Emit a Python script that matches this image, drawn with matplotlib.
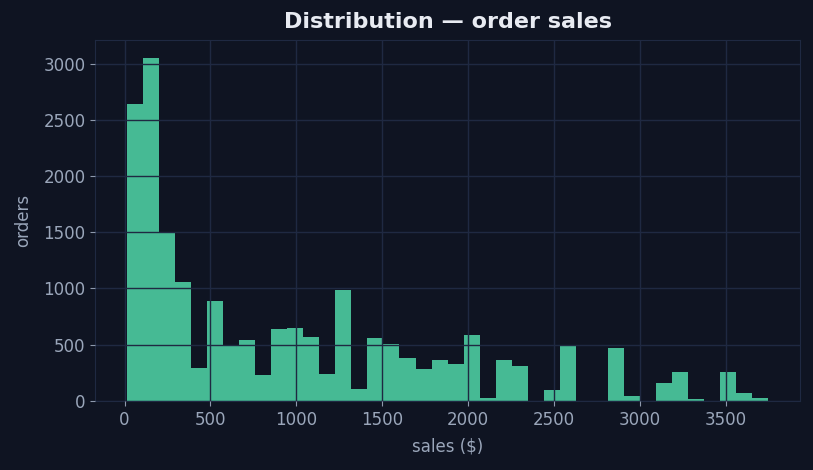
import numpy as np
import matplotlib
matplotlib.use('Agg')
import matplotlib.pyplot as plt

# histogram counts (40 equal-width bins)
counts = [2644, 3054, 1499, 1060, 294, 890, 496, 543, 231, 641,
          650, 570, 240, 988, 107, 561, 508, 383, 285, 365,
          330, 588, 27, 365, 312, 0, 98, 490, 0, 0,
          472, 44, 0, 160, 258, 13, 0, 258, 71, 27]
sales_min = 15
sales_max = 3745
n_bins = len(counts)

bg = '#0f1422'
grid_col = '#1f2942'
text_col = '#9aa6ba'
bar_col = '#46ba94'

edges = np.linspace(sales_min, sales_max, n_bins + 1)
centers = (edges[:-1] + edges[1:]) / 2

fig, ax = plt.subplots(figsize=(8.13, 4.70), dpi=100)
fig.patch.set_facecolor(bg)
ax.set_facecolor(bg)

ax.hist(centers, bins=edges, weights=counts, color=bar_col, edgecolor='none')

ax.set_axisbelow(False)
ax.grid(True, color=grid_col, linewidth=1.0)
for s in ax.spines.values():
    s.set_color(grid_col)

ax.tick_params(colors='#8e99ad', labelcolor=text_col, labelsize=12, length=3.5)
ax.set_xticks([0, 500, 1000, 1500, 2000, 2500, 3000, 3500])
ax.set_title('Distribution — order sales', color='#e8ebf2', fontsize=16,
             fontweight='bold', pad=9)
ax.set_xlabel('sales ($)', color=text_col, fontsize=12, labelpad=6.5)
ax.set_ylabel('orders', color=text_col, fontsize=12, labelpad=8)

plt.subplots_adjust(left=0.117, right=0.984, top=0.914, bottom=0.147)
plt.savefig('out.png', dpi=100, facecolor=bg)
